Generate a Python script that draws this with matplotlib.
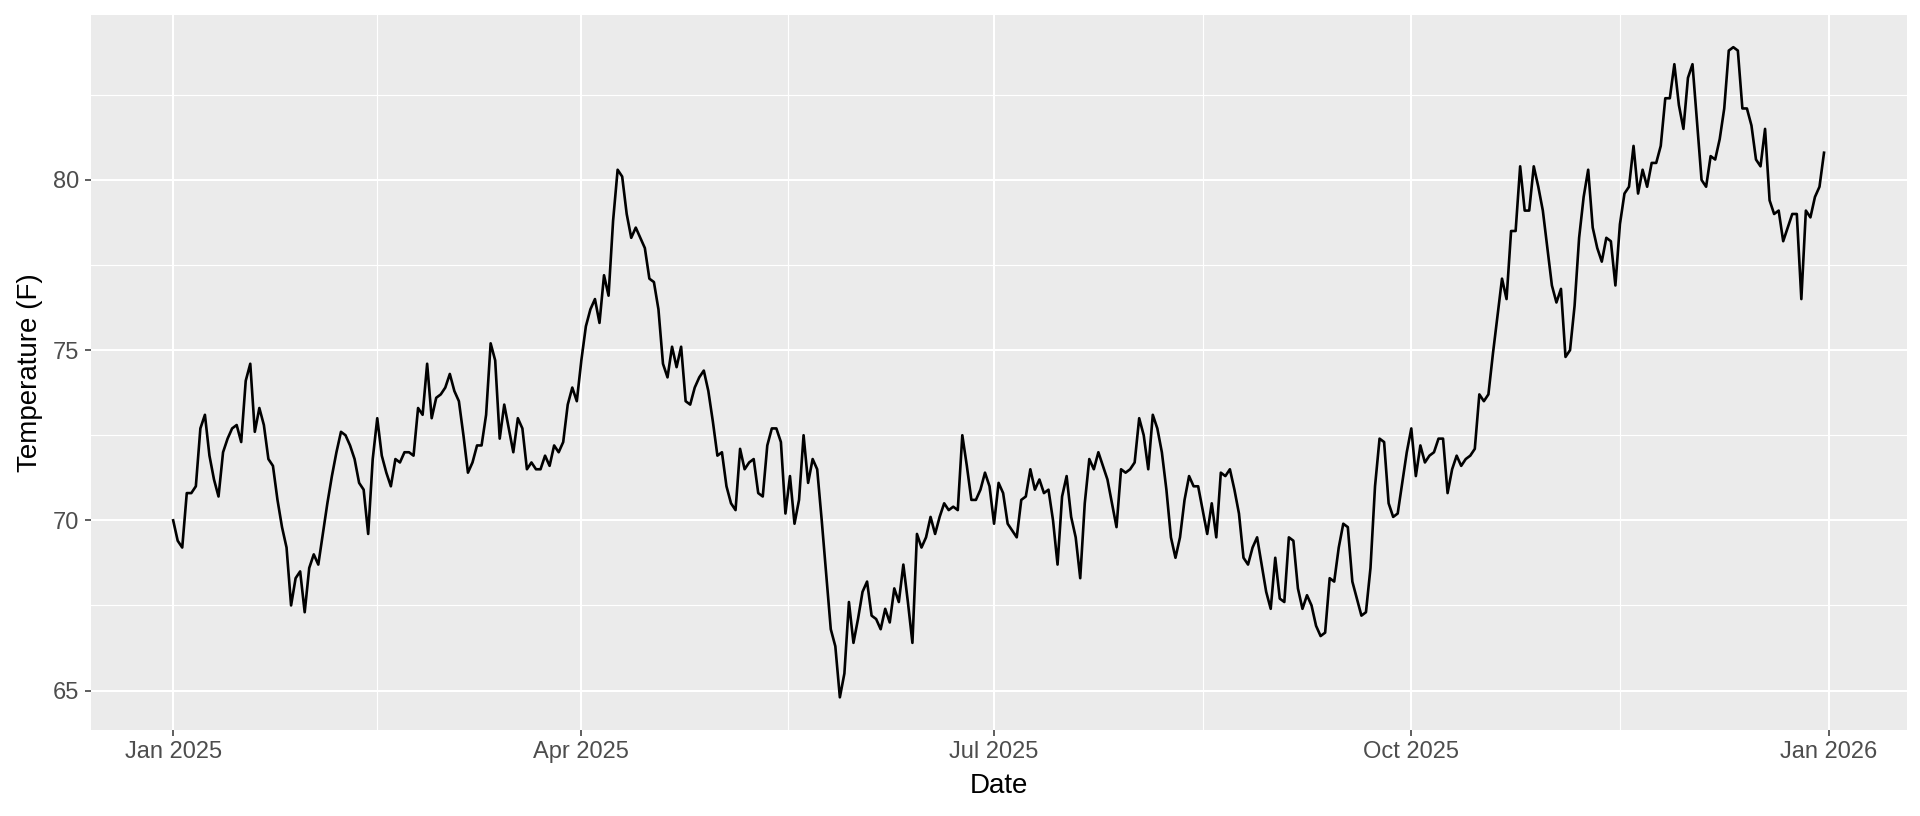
import matplotlib
matplotlib.use("Agg")
import matplotlib.pyplot as plt
import matplotlib.dates as mdates
import numpy as np
import pandas as pd

# daily temperatures (F), one list per quarter
q1_temps = [
    70.0, 69.4, 69.2, 70.8, 70.8, 71.0, 72.7, 73.1, 71.9, 71.2,
    70.7, 72.0, 72.4, 72.7, 72.8, 72.3, 74.1, 74.6, 72.6, 73.3,
    72.8, 71.8, 71.6, 70.6, 69.8, 69.2, 67.5, 68.3, 68.5, 67.3,
    68.6, 69.0, 68.7, 69.6, 70.5, 71.3, 72.0, 72.6, 72.5, 72.2,
    71.8, 71.1, 70.9, 69.6, 71.8, 73.0, 71.9, 71.4, 71.0, 71.8,
    71.7, 72.0, 72.0, 71.9, 73.3, 73.1, 74.6, 73.0, 73.6, 73.7,
    73.9, 74.3, 73.8, 73.5, 72.5, 71.4, 71.7, 72.2, 72.2, 73.1,
    75.2, 74.7, 72.4, 73.4, 72.7, 72.0, 73.0, 72.7, 71.5, 71.7,
    71.5, 71.5, 71.9, 71.6, 72.2, 72.0, 72.3, 73.4, 73.9, 73.5,
]
q2_temps = [
    74.7, 75.7, 76.2, 76.5, 75.8, 77.2, 76.6, 78.8, 80.3, 80.1,
    79.0, 78.3, 78.6, 78.3, 78.0, 77.1, 77.0, 76.2, 74.6, 74.2,
    75.1, 74.5, 75.1, 73.5, 73.4, 73.9, 74.2, 74.4, 73.8, 72.9,
    71.9, 72.0, 71.0, 70.5, 70.3, 72.1, 71.5, 71.7, 71.8, 70.8,
    70.7, 72.2, 72.7, 72.7, 72.3, 70.2, 71.3, 69.9, 70.6, 72.5,
    71.1, 71.8, 71.5, 70.0, 68.4, 66.8, 66.3, 64.8, 65.5, 67.6,
    66.4, 67.1, 67.9, 68.2, 67.2, 67.1, 66.8, 67.4, 67.0, 68.0,
    67.6, 68.7, 67.6, 66.4, 69.6, 69.2, 69.5, 70.1, 69.6, 70.1,
    70.5, 70.3, 70.4, 70.3, 72.5, 71.6, 70.6, 70.6, 70.9, 71.4,
    71.0,
]
q3_temps = [
    69.9, 71.1, 70.8, 69.9, 69.7, 69.5, 70.6, 70.7, 71.5, 70.9,
    71.2, 70.8, 70.9, 70.0, 68.7, 70.7, 71.3, 70.1, 69.5, 68.3,
    70.5, 71.8, 71.5, 72.0, 71.6, 71.2, 70.5, 69.8, 71.5, 71.4,
    71.5, 71.7, 73.0, 72.5, 71.5, 73.1, 72.7, 72.0, 70.9, 69.5,
    68.9, 69.5, 70.6, 71.3, 71.0, 71.0, 70.3, 69.6, 70.5, 69.5,
    71.4, 71.3, 71.5, 70.9, 70.2, 68.9, 68.7, 69.2, 69.5, 68.7,
    67.9, 67.4, 68.9, 67.7, 67.6, 69.5, 69.4, 68.0, 67.4, 67.8,
    67.5, 66.9, 66.6, 66.7, 68.3, 68.2, 69.2, 69.9, 69.8, 68.2,
    67.7, 67.2, 67.3, 68.6, 71.0, 72.4, 72.3, 70.5, 70.1, 70.2,
    71.1, 72.0,
]
q4_temps = [
    72.7, 71.3, 72.2, 71.7, 71.9, 72.0, 72.4, 72.4, 70.8, 71.5,
    71.9, 71.6, 71.8, 71.9, 72.1, 73.7, 73.5, 73.7, 74.9, 76.0,
    77.1, 76.5, 78.5, 78.5, 80.4, 79.1, 79.1, 80.4, 79.8, 79.1,
    78.0, 76.9, 76.4, 76.8, 74.8, 75.0, 76.3, 78.3, 79.5, 80.3,
    78.6, 78.0, 77.6, 78.3, 78.2, 76.9, 78.7, 79.6, 79.8, 81.0,
    79.6, 80.3, 79.8, 80.5, 80.5, 81.0, 82.4, 82.4, 83.4, 82.2,
    81.5, 83.0, 83.4, 81.7, 80.0, 79.8, 80.7, 80.6, 81.2, 82.1,
    83.8, 83.9, 83.8, 82.1, 82.1, 81.6, 80.6, 80.4, 81.5, 79.4,
    79.0, 79.1, 78.2, 78.6, 79.0, 79.0, 76.5, 79.1, 78.9, 79.5,
    79.8, 80.8,
]

temps = np.array(q1_temps + q2_temps + q3_temps + q4_temps)
dates = pd.date_range("2025-01-01", periods=len(temps), freq="D")

x_breaks = pd.to_datetime(["2025-01-01", "2025-04-01", "2025-07-01",
                           "2025-10-01", "2026-01-01"])
y_breaks = [65, 70, 75, 80]

PANEL = "#EBEBEB"
TICK = "#333333"
LABEL = "#4D4D4D"

plt.rcParams["font.family"] = ["Liberation Sans", "DejaVu Sans"]

fig = plt.figure(figsize=(19.2, 8.16), dpi=100)
ax = fig.add_axes([0.0472, 0.1056, 0.9458, 0.8764])
ax.set_facecolor(PANEL)
for s in ax.spines.values():
    s.set_visible(False)

# ggplot-like expansion (5%)
xnum = mdates.date2num(dates)
xpad = (xnum[-1] - xnum[0]) * 0.05
ax.set_xlim(xnum[0] - xpad, xnum[-1] + xpad)
ypad = (temps.max() - temps.min()) * 0.05
ax.set_ylim(temps.min() - ypad, temps.max() + ypad)

xb = mdates.date2num(x_breaks)
ax.set_xticks(xb)
ax.set_xticklabels([d.strftime("%b %Y") for d in x_breaks])
ax.set_xticks((xb[:-1] + xb[1:]) / 2, minor=True)
ax.set_yticks(y_breaks)
ax.set_yticks([67.5, 72.5, 77.5, 82.5], minor=True)

ax.grid(which="major", color="white", linewidth=1.5)
ax.grid(which="minor", color="white", linewidth=0.8)
ax.set_axisbelow(True)

ax.tick_params(which="major", length=4, width=1.1, color=TICK,
               labelsize=17, labelcolor=LABEL, pad=4)
ax.tick_params(which="minor", length=0)

ax.plot(xnum, temps, color="black", linewidth=1.9, zorder=3)

ax.set_xlabel("Date", fontsize=20, labelpad=7)
ax.set_ylabel("Temperature (F)", fontsize=20, labelpad=7)

fig.savefig("out.png", dpi=100, facecolor="white")
